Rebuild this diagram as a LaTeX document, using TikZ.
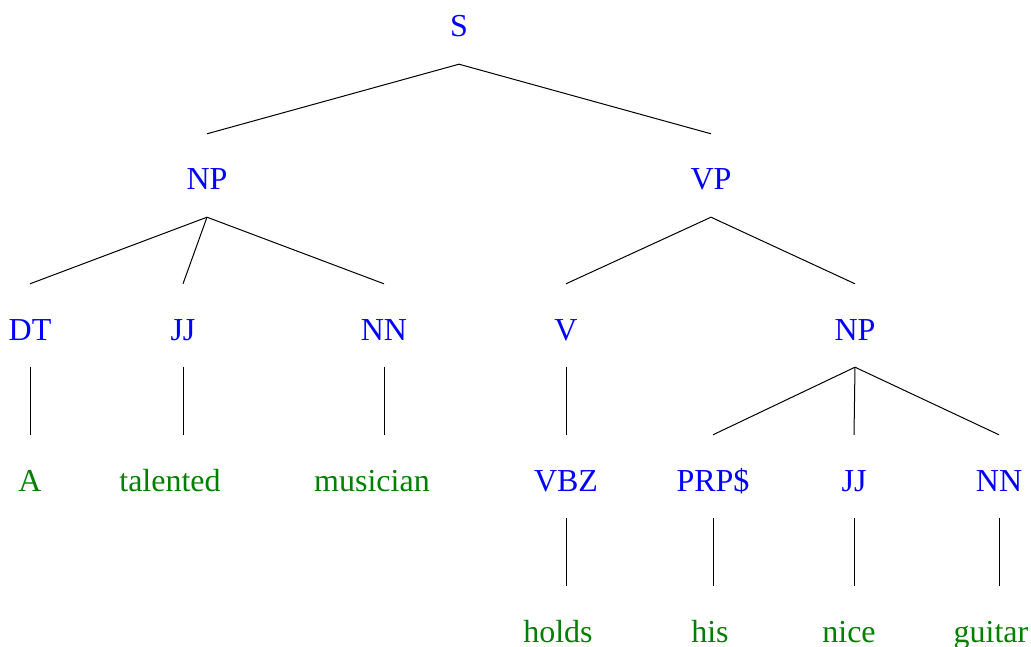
\documentclass[tikz,border=0pt]{standalone}
\usepackage{fontspec}
\setmainfont{Liberation Serif}
\usetikzlibrary{positioning}
\definecolor{tagblue}{RGB}{0,0,255}
\definecolor{wordgreen}{RGB}{0,128,0}
\tikzset{
    lbl/.style={anchor=base, inner sep=0pt, text height=56pt, text depth=27pt, font=\fontsize{32}{35}\selectfont},
    tag/.style={lbl, text=tagblue},
    word/.style={lbl, text=wordgreen},
    branch/.style={line width=1pt}
}

\begin{document}
\begin{tikzpicture}[x=1pt, y=-1pt]
        \useasboundingbox (0,0) rectangle (1031,647);
        \node[tag] (s) at (459, 37) {S};

        \node[tag] (np) at (207, 190) {NP};
        \node[tag] (vp) at (711, 190) {VP};
        \draw[branch] (s.south) -- (np.north);
        \draw[branch] (s.south) -- (vp.north);

        % subject
        \node[tag] (dt) at (30, 340) {DT};
        \node[tag] (jj) at (183, 340) {JJ};
        \node[tag] (nn) at (384, 340) {NN};
        \draw[branch] (np.south) -- (dt.north);
        \draw[branch] (np.south) -- (jj.north);
        \draw[branch] (np.south) -- (nn.north);
        \node[word] (a) at (30, 491) {A};
        \node[word] (talented) at (170, 491) {talented};
        \node[word] (musician) at (372, 491) {musician};
        \draw[branch] (dt.south) -- (dt.south |- a.north);
        \draw[branch] (jj.south) -- (jj.south |- talented.north);
        \draw[branch] (nn.south) -- (nn.south |- musician.north);

        % predicate
        \node[tag] (v) at (566, 340) {V};
        \node[tag] (npobj) at (855, 340) {NP};
        \draw[branch] (vp.south) -- (v.north);
        \draw[branch] (vp.south) -- (npobj.north);
        \node[tag] (vbz) at (566, 491) {VBZ};
        \node[tag] (prp) at (713, 491) {PRP\$};
        \node[tag] (jjobj) at (854, 491) {JJ};
        \node[tag] (nnobj) at (999, 491) {NN};
        \draw[branch] (v.south) -- (vbz.north);
        \draw[branch] (npobj.south) -- (prp.north);
        \draw[branch] (npobj.south) -- (jjobj.north);
        \draw[branch] (npobj.south) -- (nnobj.north);
        \node[word] (holds) at (558, 642) {holds};
        \node[word] (his) at (710, 642) {his};
        \node[word] (nice) at (849, 642) {nice};
        \node[word] (guitar) at (991, 642) {guitar};
        \draw[branch] (vbz.south) -- (vbz.south |- holds.north);
        \draw[branch] (prp.south) -- (prp.south |- his.north);
        \draw[branch] (jjobj.south) -- (jjobj.south |- nice.north);
        \draw[branch] (nnobj.south) -- (nnobj.south |- guitar.north);
\end{tikzpicture}
\end{document}
